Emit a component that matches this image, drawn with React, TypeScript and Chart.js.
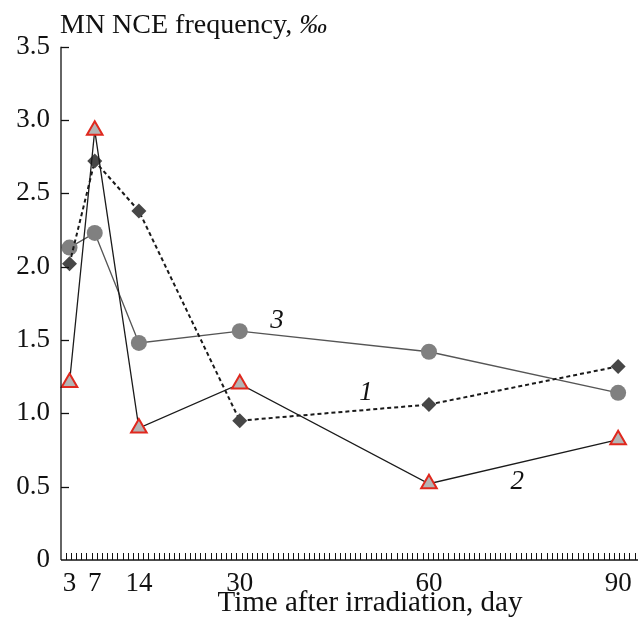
import { useEffect, useRef } from 'react';
import { Chart, registerables } from 'chart.js';

Chart.register(...registerables);

// ---- data ----
const days = [3, 7, 14, 30, 60, 90];
const series1 = [2.02, 2.72, 2.38, 0.95, 1.06, 1.32]; // diamonds, dashed
const series2 = [1.21, 2.93, 0.9, 1.2, 0.52, 0.82]; // triangles
const series3 = [2.13, 2.23, 1.48, 1.56, 1.42, 1.14]; // circles
const xTickLabels = [3, 7, 14, 30, 60, 90];
const yTickValues = [0, 0.5, 1, 1.5, 2, 2.5, 3, 3.5];
const tagTexts = ['1', '2', '3'];
const tagDays = [50, 74, 35.9];
const tagValues = [1.14, 0.53, 1.63];
const yTitle = 'MN NCE frequency, ';
const yTitleUnit = '‰';
const xTitle = 'Time after irradiation, day';

const FONT = '"Liberation Serif", "Times New Roman", serif';

const toPoints = (vals: number[]) => days.map((d, i) => ({ x: d, y: vals[i] }));

const axesPlugin = {
  id: 'customAxes',
  afterDraw(chart: any) {
    const { ctx, chartArea, scales } = chart;
    const xs = scales.x;
    const ys = scales.y;
    const left = chartArea.left;
    const right = chartArea.right;
    const bottom = chartArea.bottom;
    ctx.save();
    ctx.strokeStyle = '#111';
    ctx.lineWidth = 1.3;
    // y axis line
    ctx.beginPath();
    ctx.moveTo(left, ys.getPixelForValue(3.5));
    ctx.lineTo(left, bottom);
    ctx.stroke();
    // y ticks (inward)
    yTickValues.forEach((v) => {
      if (v === 0) return;
      const y = Math.round(ys.getPixelForValue(v)) + 0.5;
      ctx.beginPath();
      ctx.moveTo(left, y);
      ctx.lineTo(left + 8, y);
      ctx.stroke();
    });
    // x axis line
    ctx.beginPath();
    ctx.moveTo(left, bottom);
    ctx.lineTo(right, bottom);
    ctx.stroke();
    // minor x ticks (inward)
    ctx.lineWidth = 1;
    const step = 0.82;
    for (let d = 2.4; xs.getPixelForValue(d) <= right; d += step) {
      const x = Math.round(xs.getPixelForValue(d)) + 0.5;
      ctx.beginPath();
      ctx.moveTo(x, bottom);
      ctx.lineTo(x, bottom - 7);
      ctx.stroke();
    }
    // x tick labels
    ctx.fillStyle = '#111';
    ctx.font = `27px ${FONT}`;
    ctx.textAlign = 'center';
    ctx.textBaseline = 'middle';
    xTickLabels.forEach((v) => {
      ctx.fillText(String(v), xs.getPixelForValue(v), bottom + 24);
    });
    // titles
    ctx.font = `28px ${FONT}`;
    ctx.textBaseline = 'alphabetic';
    ctx.textAlign = 'left';
    ctx.fillText(yTitle, 60, 33);
    const w = ctx.measureText(yTitle).width;
    ctx.font = `italic 28px ${FONT}`;
    ctx.fillText(yTitleUnit, 60 + w, 33);
    ctx.font = `29px ${FONT}`;
    ctx.textAlign = 'center';
    ctx.fillText(xTitle, 370, 611);
    // series tags
    ctx.font = `italic 27px ${FONT}`;
    ctx.textBaseline = 'middle';
    tagTexts.forEach((t, i) => {
      ctx.fillText(t, xs.getPixelForValue(tagDays[i]), ys.getPixelForValue(tagValues[i]));
    });
    ctx.restore();
  },
};

export default function App() {
  const ref = useRef<HTMLCanvasElement | null>(null);
  useEffect(() => {
    document.body.style.margin = '0';
    const canvas = ref.current;
    if (!canvas) return;
    const chart = new Chart(canvas, {
      type: 'line',
      data: {
        datasets: [
          {
            label: '2',
            data: toPoints(series2),
            borderColor: '#1a1a1a',
            borderWidth: 1.3,
            pointStyle: 'triangle',
            pointRadius: 9,
            pointBackgroundColor: '#b4b4b4',
            pointBorderColor: '#e0281e',
            pointBorderWidth: 2,
            clip: false,
            order: 0,
          },
          {
            label: '1',
            data: toPoints(series1),
            borderColor: '#1a1a1a',
            borderWidth: 2,
            borderDash: [4, 3],
            pointStyle: 'rectRot',
            pointRadius: 7.5,
            pointBackgroundColor: '#474747',
            pointBorderColor: '#474747',
            pointBorderWidth: 0,
            clip: false,
            order: 1,
          },
          {
            label: '3',
            data: toPoints(series3),
            borderColor: '#555',
            borderWidth: 1.3,
            pointStyle: 'circle',
            pointRadius: 8,
            pointBackgroundColor: '#808080',
            pointBorderColor: '#808080',
            pointBorderWidth: 0,
            clip: false,
            order: 2,
          },
        ],
      },
      options: {
        responsive: false,
        animation: false,
        devicePixelRatio: 1,
        layout: { autoPadding: false, padding: { top: 46.7, right: 1, left: 0, bottom: 0 } },
        plugins: { legend: { display: false }, tooltip: { enabled: false } },
        scales: {
          x: {
            type: 'linear',
            min: 1.65,
            max: 93.15,
            grid: { display: false, drawTicks: false },
            border: { display: false },
            afterFit: (scale: any) => {
              scale.height = 61;
            },
            ticks: { display: false },
          },
          y: {
            type: 'linear',
            min: 0,
            max: 3.5,
            grid: { display: false, drawTicks: false },
            border: { display: false },
            afterBuildTicks: (scale: any) => {
              scale.ticks = yTickValues.map((v) => ({ value: v }));
            },
            afterFit: (scale: any) => {
              scale.width = 61;
            },
            ticks: {
              padding: 11,
              color: '#111',
              font: { family: FONT, size: 27 },
              callback: (v: any) => (Number(v) === 0 ? '0' : Number(v).toFixed(1)),
            },
          },
        },
      },
      plugins: [axesPlugin],
    });
    return () => chart.destroy();
  }, []);
  return (
    <div style={{ position: 'absolute', left: 0, top: 0, width: 639, height: 621, background: '#fff' }}>
      <canvas ref={ref} width={639} height={621} />
    </div>
  );
}
